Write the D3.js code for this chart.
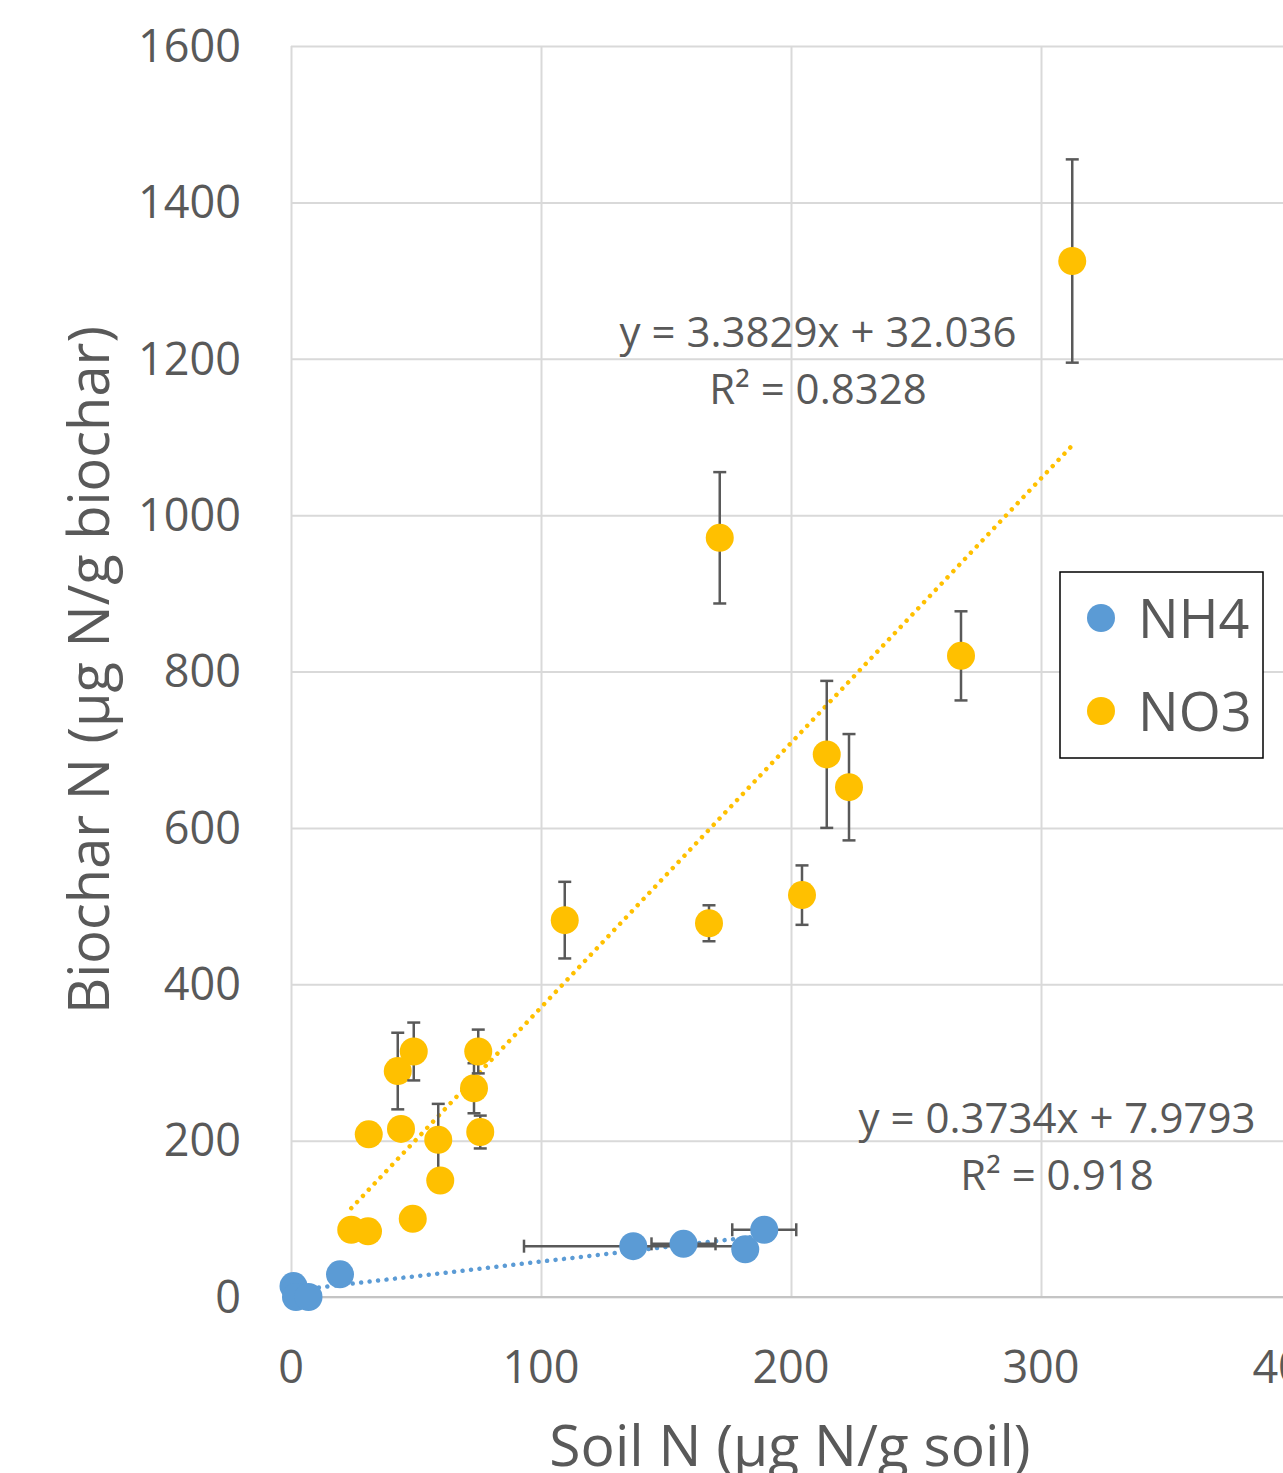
<!DOCTYPE html>
<meta charset="utf-8">
<script src="https://d3js.org/d3.v7.min.js"></script>
<style>
  body { margin: 0; background: #fff; }
  text { font-family: "Open Sans", sans-serif; fill: #595959; }
</style>
<div id="chart"></div>
<script>
// NO3 series (soil N, biochar N, y error)
const no3X   = [24.1, 30.8, 31.1, 42.7, 44.0, 48.7, 49.1, 58.9, 59.7, 73.2, 74.9, 75.7, 109.5, 167.2, 171.5, 204.4, 214.3, 223.2, 268.0, 312.5];
const no3Y   = [86, 84, 208, 289, 215, 100, 314, 201, 149, 267, 314, 211, 482, 478, 971, 514, 694, 652, 820, 1325];
const no3Err = [0, 0, 0, 49, 0, 0, 37, 46, 0, 32, 28, 21, 49, 23, 84, 38, 94, 68, 57, 130];

// NH4 series (soil N, biochar N, x error, y error)
const nh4X    = [1, 2, 7, 19.6, 136.9, 157.0, 181.7, 189.3];
const nh4Y    = [14, 0, 0, 29, 65, 68, 61, 86];
const nh4XErr = [0, 0, 0, 0, 43.7, 12.8, 4, 12.8];
const nh4YErr = [0, 0, 0, 0, 0, 0, 0, 7];

// linear fits shown on the chart
const no3Fit = [3.3829, 32.036];
const nh4Fit = [0.3734, 7.9793];
const no3FitLabel = ["y = 3.3829x + 32.036", "R² = 0.8328"];
const nh4FitLabel = ["y = 0.3734x + 7.9793", "R² = 0.918"];

const xTicks = [0, 100, 200, 300, 400];
const yTicks = [0, 200, 400, 600, 800, 1000, 1200, 1400, 1600];
const seriesNames = ["NH4", "NO3"];
const colors = {NH4: "#5b9bd5", NO3: "#ffc000"};

const W = 1283, H = 1473;
const svg = d3.select("#chart").append("svg")
  .attr("width", W).attr("height", H);

const x = d3.scaleLinear().domain([0, 400]).range([291, 1291]);
const y = d3.scaleLinear().domain([0, 1600]).range([1297, 46]);

// gridlines
svg.append("g")
  .attr("transform", "translate(291,0)")
  .call(d3.axisLeft(y).tickValues(yTicks).tickSize(-1000).tickFormat(""))
  .call(g => g.select(".domain").remove())
  .call(g => g.selectAll("line").attr("stroke", "#d9d9d9").attr("stroke-width", 2));
svg.append("g")
  .attr("transform", "translate(0,46)")
  .call(d3.axisBottom(x).tickValues(xTicks).tickSize(1251).tickFormat(""))
  .call(g => g.select(".domain").remove())
  .call(g => g.selectAll("line").attr("stroke", "#d9d9d9").attr("stroke-width", 2));
// x axis line
svg.append("line")
  .attr("x1", x(0)).attr("x2", x(400)).attr("y1", y(0)).attr("y2", y(0))
  .attr("stroke", "#c4c4c4").attr("stroke-width", 2);

// tick labels
svg.append("g").selectAll("text").data(yTicks).join("text")
  .attr("x", 241).attr("y", d => y(d)).attr("dy", "0.35em")
  .attr("text-anchor", "end").attr("font-size", 45).text(d => d);
svg.append("g").selectAll("text").data(xTicks).join("text")
  .attr("x", d => x(d)).attr("y", 1383)
  .attr("text-anchor", "middle").attr("font-size", 45).text(d => d);

// axis titles
svg.append("text")
  .attr("transform", "translate(109,670) rotate(-90)")
  .attr("text-anchor", "middle").attr("font-size", 56)
  .text("Biochar N (µg N/g biochar)");
svg.append("text")
  .attr("x", 790).attr("y", 1466)
  .attr("text-anchor", "middle").attr("font-size", 57)
  .text("Soil N (µg N/g soil)");

// trend lines
function trend(xs, fit, color) {
  const ends = d3.extent(xs);
  svg.append("path")
    .datum(ends)
    .attr("d", d3.line().x(d => x(d)).y(d => y(fit[0] * d + fit[1])))
    .attr("fill", "none")
    .attr("stroke", color)
    .attr("stroke-width", 4.5)
    .attr("stroke-linecap", "round")
    .attr("stroke-dasharray", "0.01 8.5");
}
trend(nh4X, nh4Fit, colors.NH4);
trend(no3X, no3Fit, colors.NO3);

// points with error bars, one group per point
function drawSeries(pts, color) {
  const g = svg.append("g");
  pts.forEach(p => {
    const pg = g.append("g");
    const eb = {stroke: "#595959", "stroke-width": 2.5};
    if (p.ey > 0) {
      const x0 = x(p.x), yTop = y(p.y + p.ey), yBot = y(p.y - p.ey);
      [[x0, yTop, x0, yBot], [x0 - 6.5, yTop, x0 + 6.5, yTop], [x0 - 6.5, yBot, x0 + 6.5, yBot]]
        .forEach(l => pg.append("line").attr("x1", l[0]).attr("y1", l[1]).attr("x2", l[2]).attr("y2", l[3])
          .attr("stroke", eb.stroke).attr("stroke-width", eb["stroke-width"]));
    }
    if (p.ex > 0) {
      const y0 = y(p.y), xl = x(p.x - p.ex), xr = x(p.x + p.ex);
      [[xl, y0, xr, y0], [xl, y0 - 6.5, xl, y0 + 6.5], [xr, y0 - 6.5, xr, y0 + 6.5]]
        .forEach(l => pg.append("line").attr("x1", l[0]).attr("y1", l[1]).attr("x2", l[2]).attr("y2", l[3])
          .attr("stroke", eb.stroke).attr("stroke-width", eb["stroke-width"]));
    }
    pg.append("circle").attr("cx", x(p.x)).attr("cy", y(p.y)).attr("r", 14).attr("fill", color);
  });
}
drawSeries(nh4X.map((v, i) => ({x: v, y: nh4Y[i], ex: nh4XErr[i], ey: nh4YErr[i]})), colors.NH4);
drawSeries(no3X.map((v, i) => ({x: v, y: no3Y[i], ex: 0, ey: no3Err[i]})), colors.NO3);

// fit labels
svg.append("g").selectAll("text").data(no3FitLabel).join("text")
  .attr("x", 818).attr("y", (d, i) => 347 + i * 57)
  .attr("text-anchor", "middle").attr("font-size", 42).text(d => d);
svg.append("g").selectAll("text").data(nh4FitLabel).join("text")
  .attr("x", 1057).attr("y", (d, i) => 1133 + i * 57)
  .attr("text-anchor", "middle").attr("font-size", 42).text(d => d);

// legend
const lg = svg.append("g");
lg.append("rect").attr("x", 1060).attr("y", 572).attr("width", 203).attr("height", 186)
  .attr("fill", "#fff").attr("stroke", "#000").attr("stroke-width", 1.5);
seriesNames.forEach((s, i) => {
  lg.append("circle").attr("cx", 1101).attr("cy", 618 + i * 93).attr("r", 14).attr("fill", colors[s]);
  lg.append("text").attr("x", 1138).attr("y", 638 + i * 93).attr("font-size", 54).text(s);
});
</script>
